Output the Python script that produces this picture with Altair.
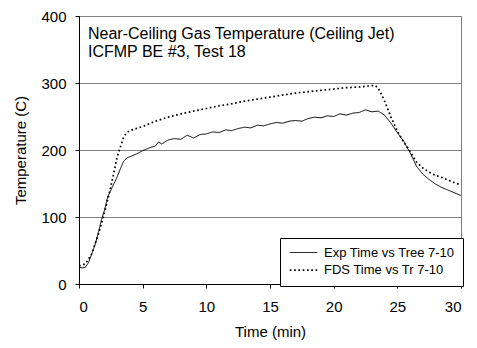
import altair as alt
import pandas as pd

FONT = "Liberation Sans"

# ---- data ----
exp_time = [0, 0.25, 0.5, 0.75, 1.0, 1.25, 1.5, 1.75, 2.0, 2.25, 2.5, 2.75, 3.0, 3.25, 3.5,
            3.75, 4.0, 4.5, 5.0, 5.5, 6.0, 6.25, 6.5, 7.0, 7.5, 8.0, 8.5, 9.0, 9.5, 10.0,
            10.5, 11.0, 11.5, 12.0, 12.5, 13.0, 13.5, 14.0, 14.5, 15.0, 15.5, 16.0, 16.5,
            17.0, 17.5, 18.0, 18.5, 19.0, 19.5, 20.0, 20.5, 21.0, 21.5, 22.0, 22.5, 23.0,
            23.5, 24.0, 24.5, 25.0, 25.5, 26.0, 26.5, 27.0, 27.5, 28.0, 28.5, 29.0, 29.5, 30.0]
exp_temp = [25, 24, 25, 32, 45, 58, 75, 95, 110, 130, 140, 150, 160, 172, 183,
            188, 190, 194, 199, 203, 206, 212, 209, 215, 217, 216, 222, 218, 223, 224,
            227, 226, 230, 229, 232, 234, 233, 237, 236, 239, 241, 240, 243,
            244, 243, 247, 249, 248, 251, 250, 254, 252, 255, 256, 260, 257,
            258, 252, 240, 226, 213, 196, 176, 164, 156, 149, 144, 140, 136, 132]

fds_time = [0, 0.5, 1.0, 1.5, 2.0, 2.5, 3.0, 3.5, 3.75, 4.0, 5.0, 6.0, 7.0, 8.0, 9.0, 10.0,
            11.0, 12.0, 13.0, 14.0, 15.0, 16.0, 17.0, 18.0, 19.0, 20.0, 21.0, 22.0, 23.0,
            23.3, 23.6, 24.0, 24.5, 25.0, 25.5, 26.0, 26.5, 27.0, 27.5, 28.0, 28.5, 29.0,
            29.5, 30.0]
fds_temp = [27, 30, 45, 73, 106, 145, 190, 219, 226, 229, 235, 243, 249, 254, 258, 262,
            266, 269, 273, 276, 279, 282, 285, 287, 289, 291, 293, 294, 296,
            296, 289, 273, 249, 228, 212, 198, 182, 173, 167, 162, 159, 155,
            151, 148]

series_names = ["Exp Time vs Tree 7-10", "FDS Time vs Tr 7-10"]
title_lines = ["Near-Ceiling Gas Temperature (Ceiling Jet)", "ICFMP BE #3, Test 18"]
x_ticks = [0, 5, 10, 15, 20, 25, 30]
y_ticks = [0, 100, 200, 300, 400]

df = pd.concat([
    pd.DataFrame({"time": exp_time, "temp": exp_temp, "series": series_names[0]}),
    pd.DataFrame({"time": fds_time, "temp": fds_temp, "series": series_names[1]}),
])

lines = alt.Chart(df).mark_line(color="black", clip=True).encode(
    x=alt.X("time:Q", scale=alt.Scale(domain=[0, 30], nice=False),
            axis=alt.Axis(values=x_ticks, title="Time (min)", grid=False,
                          labelPadding=11, titlePadding=10, titleFontWeight="normal")),
    y=alt.Y("temp:Q", scale=alt.Scale(domain=[0, 400], nice=False),
            axis=alt.Axis(values=y_ticks, title="Temperature (C)", grid=True,
                          labelPadding=9, titlePadding=12, titleFontWeight="normal")),
    strokeDash=alt.StrokeDash(
        "series:N",
        scale=alt.Scale(domain=series_names, range=[[1, 0], [1.7, 2.6]]),
        legend=alt.Legend(
            title=None, orient="none", legendX=201, legendY=222,
            direction="vertical", fillColor="white", strokeColor="black",
            padding=8, labelFont=FONT, labelFontSize=13, labelColor="black",
            symbolType="M-2.5,0L2.5,0", symbolSize=121,
            symbolStrokeColor="black", symbolStrokeWidth=1.2,
            symbolOffset=9, labelOffset=14, rowPadding=3.6,
        ),
    ),
    strokeWidth=alt.StrokeWidth(
        "series:N", scale=alt.Scale(domain=series_names, range=[1, 1.7]), legend=None
    ),
)

text = alt.Chart(pd.DataFrame({"k": [0]})).mark_text(
    text=title_lines, align="left", baseline="alphabetic",
    fontSize=16, lineHeight=17.5, font=FONT, color="black",
).encode(x=alt.value(9), y=alt.value(23))

chart = alt.layer(lines, text).properties(
    width=382, height=268,
    padding={"left": 71, "top": 8, "right": 8, "bottom": 56},
    autosize="none",
).configure_view(
    stroke="#808080", strokeWidth=1
).configure_axis(
    domainColor="black", domainWidth=1, tickColor="black", tickSize=4,
    labelFont=FONT, labelFontSize=15, labelColor="black",
    titleFont=FONT, titleFontSize=15, titleColor="black", titleFontWeight="normal",
    gridColor="#808080", gridWidth=1, gridOpacity=1,
)

chart.save("out.html", embed_options={"renderer": "svg", "actions": False})
